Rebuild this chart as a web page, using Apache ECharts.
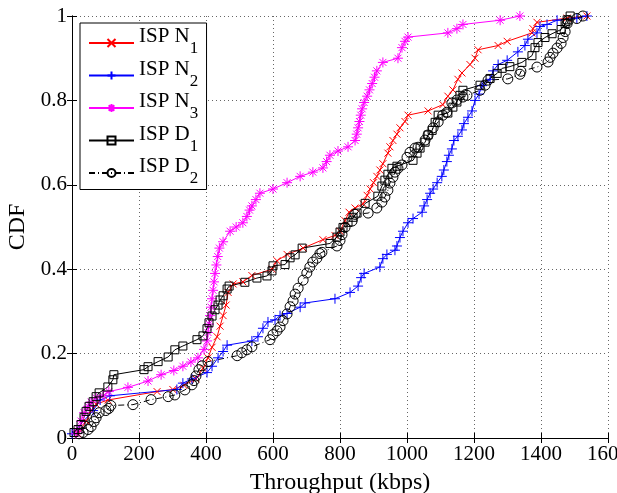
<!DOCTYPE html>
<html>
<head>
<meta charset="utf-8">
<script src="https://cdn.jsdelivr.net/npm/echarts@6/dist/echarts.min.js"></script>
<style>
  html, body { margin: 0; padding: 0; background: #fff; }
  #chart { width: 617px; height: 493px; }
</style>
</head>
<body>
<div id="chart"></div>
<script>
// Throughput CDFs for five ISPs (kbps vs. cumulative fraction)
const seriesNames = ['ISP N1', 'ISP N2', 'ISP N3', 'ISP D1', 'ISP D2'];

const n1Throughput = [18, 42, 57, 72, 107, 254, 301, 334, 370, 391, 406, 418, 433, 442, 451, 460, 466, 481, 510, 537, 597, 612, 642, 690, 749, 785, 800, 815, 827, 845, 869, 881, 890, 900, 910, 919, 928, 943, 949, 958, 970, 979, 994, 1003, 1063, 1107, 1122, 1137, 1152, 1164, 1188, 1203, 1212, 1272, 1299, 1373, 1376, 1388, 1478, 1537];
const n1Cdf = [0.01, 0.04, 0.065, 0.08, 0.09, 0.11, 0.115, 0.125, 0.14, 0.165, 0.19, 0.215, 0.24, 0.265, 0.29, 0.315, 0.345, 0.365, 0.37, 0.385, 0.40, 0.42, 0.435, 0.45, 0.47, 0.48, 0.49, 0.515, 0.535, 0.545, 0.555, 0.575, 0.59, 0.605, 0.62, 0.635, 0.65, 0.675, 0.69, 0.705, 0.72, 0.735, 0.75, 0.765, 0.775, 0.79, 0.81, 0.825, 0.85, 0.865, 0.885, 0.90, 0.92, 0.93, 0.94, 0.96, 0.97, 0.985, 0.995, 1.0];

const n2Throughput = [0, 63, 84, 113, 313, 331, 358, 403, 418, 436, 451, 463, 537, 555, 570, 585, 606, 621, 642, 681, 696, 785, 830, 854, 863, 872, 919, 928, 940, 964, 970, 979, 988, 1003, 1018, 1045, 1051, 1060, 1069, 1078, 1090, 1104, 1110, 1119, 1125, 1134, 1140, 1152, 1164, 1170, 1182, 1194, 1203, 1215, 1224, 1248, 1257, 1272, 1299, 1331, 1352, 1361, 1388, 1397, 1418, 1448, 1507, 1537];
const n2Cdf = [0.01, 0.065, 0.09, 0.10, 0.115, 0.13, 0.14, 0.155, 0.17, 0.19, 0.205, 0.22, 0.23, 0.24, 0.26, 0.275, 0.28, 0.29, 0.295, 0.31, 0.32, 0.33, 0.345, 0.36, 0.38, 0.39, 0.405, 0.425, 0.435, 0.445, 0.455, 0.475, 0.49, 0.51, 0.52, 0.535, 0.55, 0.565, 0.58, 0.59, 0.605, 0.62, 0.635, 0.655, 0.67, 0.685, 0.705, 0.715, 0.73, 0.745, 0.76, 0.775, 0.80, 0.815, 0.835, 0.85, 0.87, 0.885, 0.895, 0.915, 0.93, 0.945, 0.96, 0.975, 0.98, 0.99, 0.995, 1.0];

const n3Throughput = [12, 21, 27, 36, 48, 57, 72, 93, 110, 167, 227, 266, 304, 331, 355, 376, 394, 403, 406, 409, 412, 415, 418, 421, 424, 427, 431, 435, 440, 451, 472, 490, 510, 522, 530, 537, 549, 561, 600, 642, 681, 719, 749, 760, 770, 794, 824, 845, 850, 854, 858, 862, 866, 872, 881, 888, 896, 903, 910, 928, 973, 985, 994, 1003, 1122, 1149, 1167, 1278, 1337];
const n3Cdf = [0.01, 0.02, 0.04, 0.06, 0.075, 0.085, 0.095, 0.10, 0.11, 0.12, 0.135, 0.15, 0.16, 0.17, 0.18, 0.19, 0.21, 0.23, 0.25, 0.27, 0.29, 0.31, 0.33, 0.35, 0.37, 0.39, 0.41, 0.43, 0.45, 0.465, 0.49, 0.50, 0.51, 0.525, 0.54, 0.55, 0.565, 0.58, 0.59, 0.605, 0.62, 0.63, 0.64, 0.655, 0.67, 0.68, 0.69, 0.705, 0.72, 0.735, 0.75, 0.765, 0.78, 0.795, 0.81, 0.825, 0.84, 0.855, 0.87, 0.89, 0.90, 0.925, 0.94, 0.95, 0.96, 0.97, 0.98, 0.99, 1.0];

const d1Throughput = [6, 18, 27, 36, 42, 51, 63, 72, 81, 107, 122, 125, 215, 227, 257, 287, 307, 331, 373, 391, 403, 409, 418, 427, 436, 442, 451, 463, 469, 516, 552, 582, 597, 600, 636, 651, 666, 687, 770, 791, 800, 809, 824, 839, 851, 875, 913, 925, 934, 943, 955, 970, 1018, 1030, 1039, 1054, 1063, 1075, 1084, 1093, 1122, 1137, 1149, 1158, 1167, 1218, 1248, 1269, 1284, 1307, 1343, 1373, 1382, 1391, 1412, 1433, 1460, 1472, 1478, 1487];
const d1Cdf = [0.013, 0.02, 0.032, 0.049, 0.063, 0.075, 0.086, 0.098, 0.107, 0.121, 0.138, 0.15, 0.162, 0.169, 0.181, 0.192, 0.209, 0.218, 0.233, 0.242, 0.259, 0.273, 0.289, 0.304, 0.315, 0.327, 0.337, 0.353, 0.36, 0.369, 0.379, 0.384, 0.396, 0.408, 0.411, 0.427, 0.434, 0.45, 0.461, 0.476, 0.488, 0.499, 0.511, 0.523, 0.533, 0.556, 0.573, 0.597, 0.611, 0.625, 0.639, 0.644, 0.658, 0.675, 0.687, 0.701, 0.718, 0.729, 0.748, 0.765, 0.77, 0.784, 0.796, 0.812, 0.824, 0.836, 0.852, 0.864, 0.876, 0.88, 0.89, 0.906, 0.925, 0.937, 0.949, 0.958, 0.968, 0.982, 0.991, 1.0];

const d2Throughput = [21, 33, 48, 57, 66, 72, 81, 101, 110, 116, 182, 236, 287, 307, 337, 358, 364, 370, 379, 388, 406, 493, 507, 522, 537, 591, 600, 612, 621, 630, 642, 651, 660, 666, 675, 690, 701, 710, 719, 731, 740, 746, 791, 800, 806, 815, 836, 845, 884, 910, 925, 934, 943, 949, 958, 964, 973, 985, 1000, 1009, 1024, 1033, 1054, 1063, 1078, 1093, 1107, 1119, 1134, 1149, 1167, 1179, 1218, 1233, 1242, 1301, 1337, 1340, 1388, 1421, 1427, 1436, 1448, 1460, 1466, 1472, 1478, 1481, 1507, 1525];
const d2Cdf = [0.01, 0.013, 0.02, 0.027, 0.039, 0.048, 0.06, 0.065, 0.07, 0.077, 0.079, 0.091, 0.098, 0.102, 0.114, 0.126, 0.136, 0.147, 0.162, 0.171, 0.181, 0.195, 0.202, 0.209, 0.216, 0.233, 0.245, 0.254, 0.263, 0.278, 0.294, 0.311, 0.325, 0.341, 0.355, 0.374, 0.391, 0.405, 0.417, 0.426, 0.437, 0.44, 0.455, 0.468, 0.482, 0.499, 0.514, 0.53, 0.533, 0.545, 0.559, 0.571, 0.587, 0.604, 0.618, 0.63, 0.639, 0.647, 0.665, 0.677, 0.687, 0.689, 0.706, 0.718, 0.735, 0.749, 0.765, 0.772, 0.794, 0.801, 0.808, 0.812, 0.824, 0.836, 0.848, 0.851, 0.862, 0.869, 0.879, 0.891, 0.902, 0.912, 0.924, 0.935, 0.949, 0.963, 0.982, 0.989, 0.994, 1.0];

const xTicks = [0, 200, 400, 600, 800, 1000, 1200, 1400, 1600];
const yTicks = [0, 0.2, 0.4, 0.6, 0.8, 1];

const SERIF = '"Liberation Serif", "DejaVu Serif", serif';

function pairs(xs, ys) {
  return xs.map((x, i) => [x, ys[i]]);
}

// stroked marker outlines
const CROSS = 'path://M0,0L10,10M10,0L0,10';
const PLUS = 'path://M5,0L5,10M0,5L10,5';
const STAR = 'path://M5,0L5,10M0,5L10,5M1.5,1.5L8.5,8.5M8.5,1.5L1.5,8.5';

function makeSeries(name, xs, ys, color, symbol, size, dash) {
  return {
    name: name,
    type: 'line',
    data: pairs(xs, ys),
    symbol: symbol,
    symbolSize: size,
    showAllSymbol: true,
    lineStyle: { color: color, width: 1, type: dash || 'solid' },
    itemStyle: { color: 'rgba(0,0,0,0)', borderColor: color, borderWidth: 1 },
    emphasis: { disabled: true },
    z: 3
  };
}

const chart = echarts.init(document.getElementById('chart'), null, { renderer: 'canvas' });

const axisCommon = {
  type: 'value',
  axisLine: { show: true, lineStyle: { color: '#000', width: 1 } },
  axisTick: { show: true, inside: true, length: 5, lineStyle: { color: '#000' } }
};

chart.setOption({
  animation: false,
  backgroundColor: '#fff',
  grid: { left: 72, right: 9, top: 16, bottom: 55, containLabel: false, outerBoundsMode: 'none' },
  xAxis: [
    Object.assign({}, axisCommon, {
      min: xTicks[0], max: xTicks[xTicks.length - 1], interval: 200,
      name: 'Throughput (kbps)', nameLocation: 'middle', nameGap: 33,
      nameTextStyle: { fontFamily: SERIF, fontSize: 24, color: '#000' },
      axisLabel: { fontFamily: SERIF, fontSize: 21, color: '#000', margin: 6, formatter: v => String(v) },
      splitLine: { show: true, lineStyle: { color: '#666', width: 1, type: [1, 3] } }
    }),
    Object.assign({}, axisCommon, {
      position: 'top', min: xTicks[0], max: xTicks[xTicks.length - 1], interval: 200,
      axisLabel: { show: false }, splitLine: { show: false }
    })
  ],
  yAxis: [
    Object.assign({}, axisCommon, {
      min: yTicks[0], max: yTicks[yTicks.length - 1], interval: 0.2,
      name: 'CDF', nameLocation: 'middle', nameGap: 41,
      nameTextStyle: { fontFamily: SERIF, fontSize: 24, color: '#000' },
      axisLabel: { fontFamily: SERIF, fontSize: 21, color: '#000', margin: 5, formatter: v => String(v) },
      splitLine: { show: true, lineStyle: { color: '#666', width: 1, type: [1, 3] } }
    }),
    Object.assign({}, axisCommon, {
      position: 'right', min: yTicks[0], max: yTicks[yTicks.length - 1], interval: 0.2,
      axisLabel: { show: false }, splitLine: { show: false }
    })
  ],
  legend: {
    data: seriesNames,
    orient: 'vertical',
    left: 80,
    top: 23,
    padding: [3, 8, 2, 8],
    itemGap: 1,
    itemWidth: 45,
    itemHeight: 10,
    backgroundColor: '#fff',
    borderColor: '#000',
    borderWidth: 1,
    borderRadius: 0,
    selectedMode: false,
    formatter: function (name) {
      const parts = name.match(/^(.*?)(\d+)$/);
      return '{a|' + parts[1] + '}{s|' + parts[2] + '}{h| }';
    },
    textStyle: {
      color: '#000',
      rich: {
        a: { fontFamily: SERIF, fontSize: 21, lineHeight: 18, verticalAlign: 'top', color: '#000' },
        s: { fontFamily: SERIF, fontSize: 17, lineHeight: 20, padding: [12, 0, 0, 0], verticalAlign: 'middle', color: '#000' },
        h: { fontSize: 1, lineHeight: 34 }
      }
    }
  },
  series: [
    makeSeries(seriesNames[0], n1Throughput, n1Cdf, '#ff0000', CROSS, 7),
    makeSeries(seriesNames[1], n2Throughput, n2Cdf, '#0000ff', PLUS, 10),
    makeSeries(seriesNames[2], n3Throughput, n3Cdf, '#ff00ff', STAR, 10),
    makeSeries(seriesNames[3], d1Throughput, d1Cdf, '#000000', 'rect', 8),
    makeSeries(seriesNames[4], d2Throughput, d2Cdf, '#000000', 'circle', 10, [6, 3, 1, 3])
  ]
});
</script>
</body>
</html>
